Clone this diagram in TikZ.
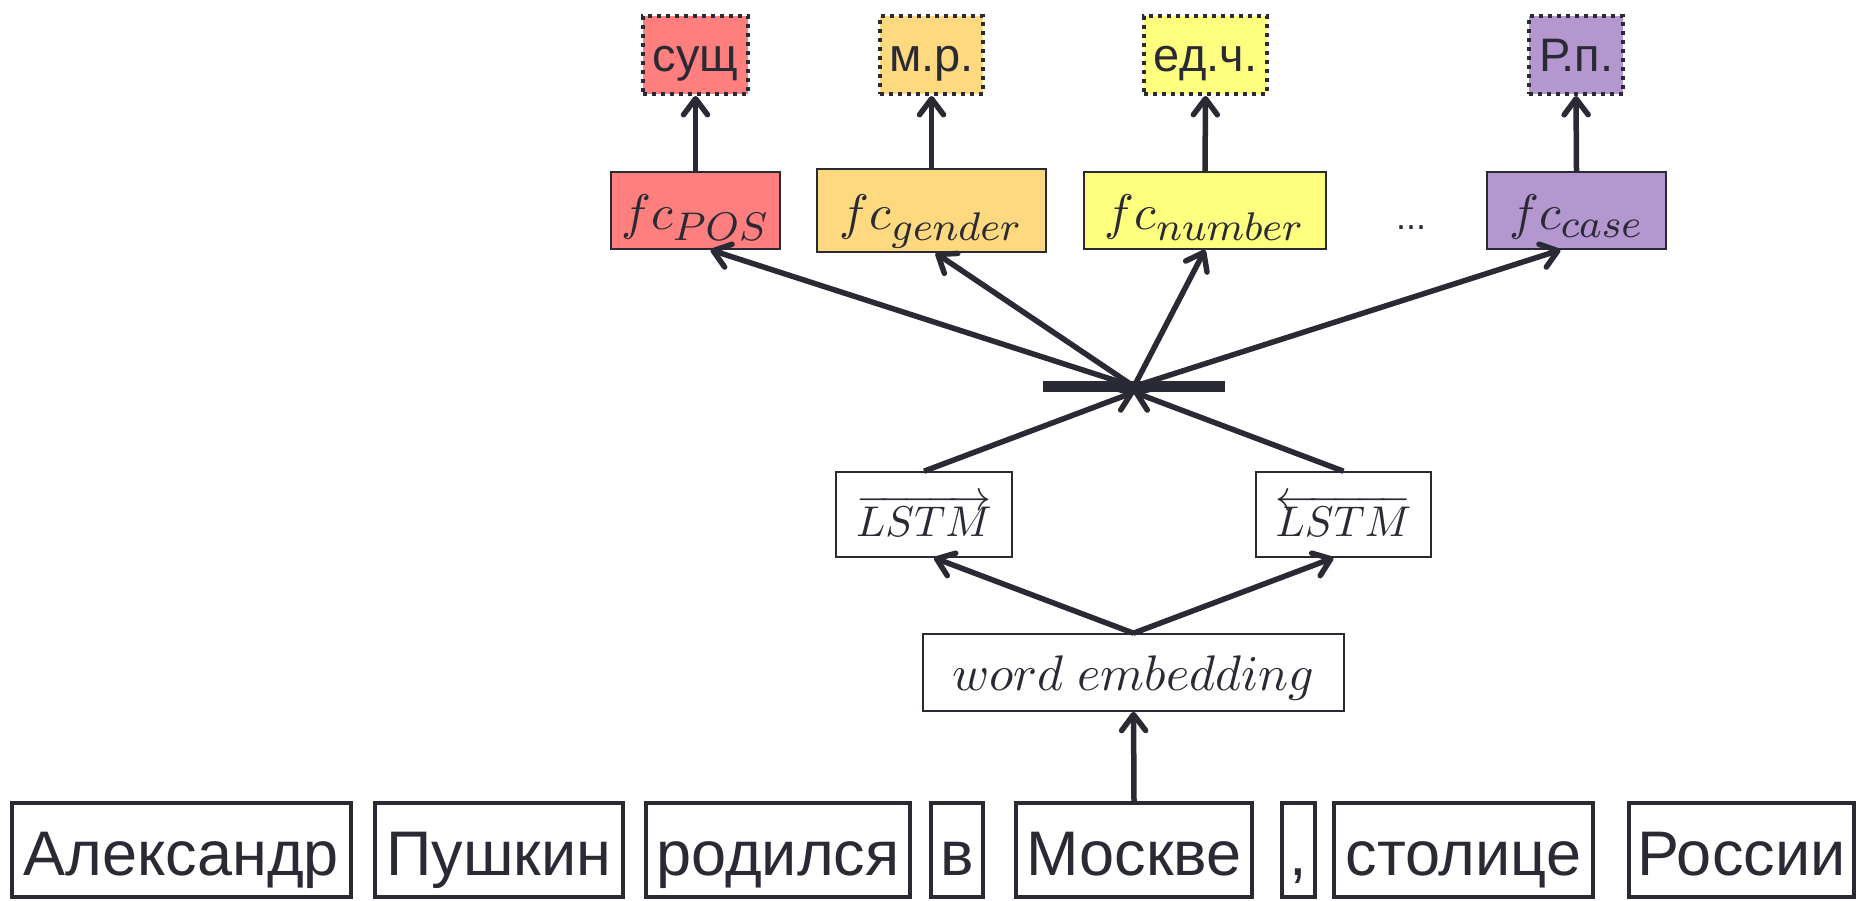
\documentclass[tikz,border=0pt]{standalone}
\usepackage[no-math]{fontspec}
\setmainfont{Liberation Sans}
\usepackage{graphicx}
\usetikzlibrary{arrows.meta,calc}
\DeclareMathSizes{10}{10}{8}{6}
\definecolor{ink}{HTML}{2A2A35}
\definecolor{cred}{HTML}{FF7F7F}
\definecolor{corange}{HTML}{FFD97F}
\definecolor{cyellow}{HTML}{FFFF7F}
\definecolor{cpurple}{HTML}{B497CE}
\newcommand{\bigmath}[2]{\scalebox{#1}{$#2$}}
\tikzset{
  lab/.style={draw=ink, line width=4pt, dash pattern=on 4pt off 5pt, inner sep=0pt,
    minimum height=78pt, text height=34pt, text depth=0pt,
    font=\fontsize{47}{50}\selectfont, text=ink},
  fcbox/.style={draw=ink, line width=1.8pt, inner sep=0pt, minimum height=77pt,
    text height=39pt, text depth=0pt, font=\fontsize{10}{12}\selectfont, text=ink},
  thinbox/.style={draw=ink, line width=1.6pt, inner sep=0pt, text=ink,
    font=\fontsize{10}{12}\selectfont},
  tok/.style={draw=ink, line width=3.5pt, inner sep=0pt, minimum height=94pt,
    text height=50pt, text depth=0pt, font=\fontsize{63}{66}\selectfont, text=ink},
  arr/.style={draw=ink, line width=5.5pt, -{Straight Barb[length=16pt,width=24pt,round]}},
}
\begin{document}
\begin{tikzpicture}[x=1pt,y=-1pt]
\useasboundingbox (0,0) rectangle (1858,901);
% output labels
\node[lab, fill=cred, minimum width=105pt] (l1) at (695.5,55) {сущ};
\node[lab, fill=corange, minimum width=103pt] (l2) at (931.5,55) {м.р.};
\node[lab, fill=cyellow, minimum width=123pt] (l3) at (1205.5,55) {ед.ч.};
\node[lab, fill=cpurple, minimum width=94pt] (l4) at (1576,55) {Р.п.};
% fc layers
\node[fcbox, fill=cred, minimum width=169pt] (f1) at (695.5,210.5) {\bigmath{5}{fc_{POS}}};
\node[fcbox, fill=corange, minimum width=229pt, minimum height=83pt] (f2) at (931.5,210.5) {\bigmath{5}{fc_{gender}}};
\node[fcbox, fill=cyellow, minimum width=242pt] (f3) at (1205,210.5) {\bigmath{5}{fc_{number}}};
\node[fcbox, fill=cpurple, minimum width=179pt] (f4) at (1576.5,210.5) {\bigmath{5}{fc_{case}}};
\node[anchor=base, font=\fontsize{36}{38}\selectfont, text=ink] (dots) at (1411,230) {...};
% concat bar
\node[fill=ink, minimum width=182pt, minimum height=11pt, inner sep=0pt] (bar) at (1134,386.5) {};
% LSTMs
\node[thinbox, minimum width=176pt, minimum height=85pt, text height=43pt, text depth=0pt]
  (ls1) at (924,514.5) {\bigmath{4.3}{\overrightarrow{LSTM}}};
\node[thinbox, minimum width=175pt, minimum height=85pt, text height=43pt, text depth=0pt]
  (ls2) at (1343.5,514.5) {\bigmath{4.3}{\overleftarrow{LSTM}}};
% embedding
\node[thinbox, minimum width=421pt, minimum height=77pt, text height=35pt, text depth=0pt]
  (we) at (1133.5,672.5) {\bigmath{5}{word\ embedding}};
% tokens
\node[tok, minimum width=339pt] (t1) at (181.5,850) {Александр};
\node[tok, minimum width=248pt] (t2) at (499,850) {Пушкин};
\node[tok, minimum width=264pt] (t3) at (778,850) {родился};
\node[tok, minimum width=52pt] (t4) at (957,850) {в};
\node[tok, minimum width=236pt] (t5) at (1134,850) {Москве};
\node[tok, minimum width=33pt] (t6) at (1298.5,850) {,};
\node[tok, minimum width=259pt] (t7) at (1463.5,850) {столице};
\node[tok, minimum width=225pt] (t8) at (1741.5,850) {России};
% arrows
\draw[arr] (t5.north) -- (we.south);
\draw[arr] (we.north) -- ($(ls1.south)+(10,0)$);
\draw[arr] (we.north) -- ($(ls2.south)+(-10,0)$);
\draw[arr] (ls1.north) -- (bar.south);
\draw[arr] (ls2.north) -- (bar.south);
\draw[arr] (bar.center) -- ($(f1.south)+(15,0)$);
\draw[arr] (bar.center) -- ($(f2.south)+(4,0)$);
\draw[arr] (bar.center) -- (f3.south);
\draw[arr] (bar.center) -- ($(f4.south)+(-16,0)$);
\draw[arr] (f1.north) -- (l1.south);
\draw[arr] (f2.north) -- (l2.south);
\draw[arr] (f3.north) -- (l3.south);
\draw[arr] (f4.north) -- (l4.south);
\end{tikzpicture}
\end{document}
